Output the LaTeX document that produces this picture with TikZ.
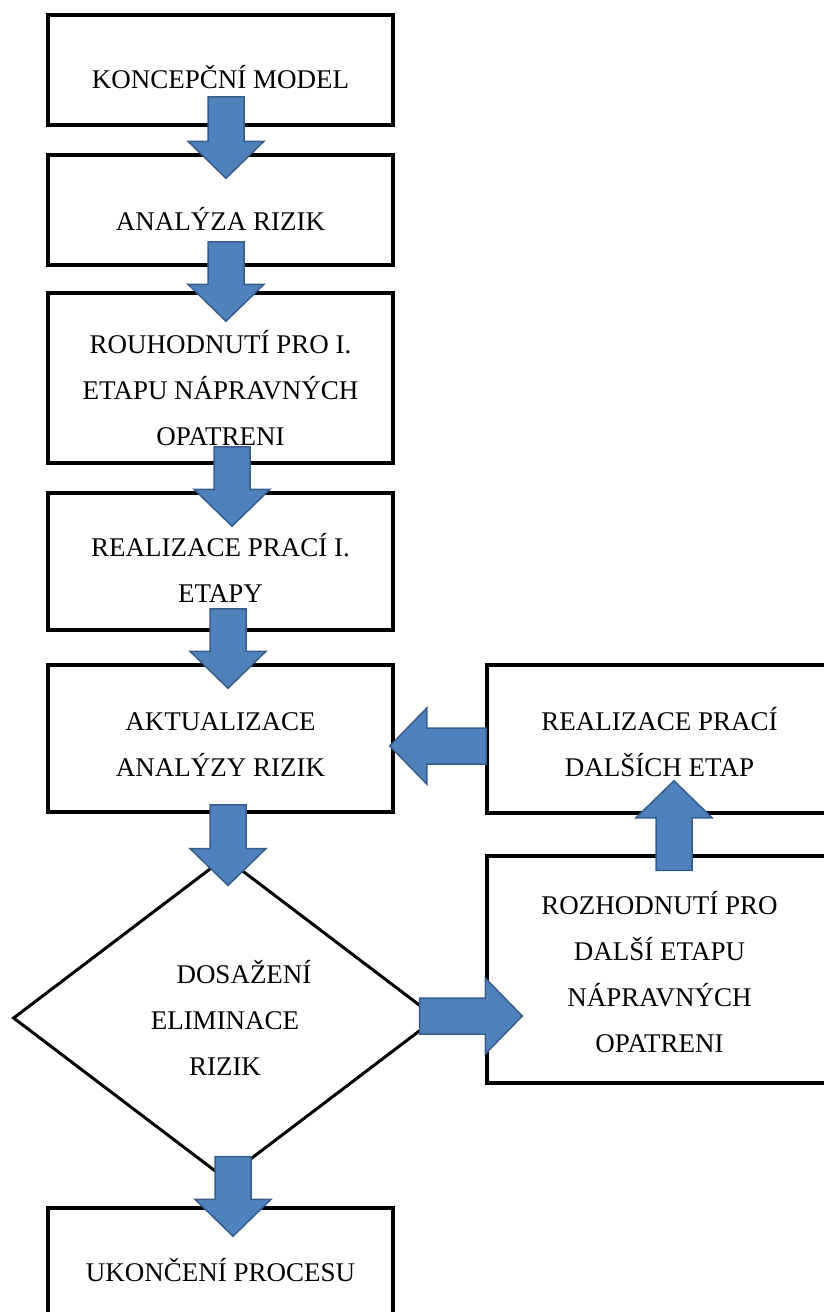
\documentclass[tikz,border=0pt]{standalone}
\usepackage{fontspec}
\setmainfont{Liberation Serif}
\usetikzlibrary{calc,shapes.geometric}

\definecolor{arrowfill}{HTML}{4F81BD}
\definecolor{arrowline}{HTML}{385D8A}

\tikzset{
  box/.style={draw, line width=3.5pt, fill=white, minimum width=345pt, align=center, inner sep=0pt},
  decision/.style={diamond, draw, line width=3pt, fill=white, minimum width=424pt, minimum height=322pt, align=center, inner sep=0pt},
  blockarrow/.style={fill=arrowfill, draw=arrowline, line width=1.5pt}
}

% text sits a bit low in the boxes
\newcommand{\topgap}[1]{\rule{0pt}{#1}}

% fat arrow from #1 to #2
\newcommand{\blockarrow}[2]{%
  \path (#1) coordinate (tail) (#2) coordinate (tip) ($(tip)!37pt!(tail)$) coordinate (hb);
  \draw[blockarrow] ($(tail)!18pt!90:(tip)$) -- ($(hb)!18pt!90:(tip)$) -- ($(hb)!38pt!90:(tip)$) -- (tip)
    -- ($(hb)!38pt!-90:(tip)$) -- ($(hb)!18pt!-90:(tip)$) -- ($(tail)!18pt!-90:(tip)$) -- cycle;
}

\begin{document}
\begin{tikzpicture}[x=1pt, y=-1pt, font=\fontsize{27}{46}\selectfont]
  \useasboundingbox (0,0) rectangle (823,1312);

  % Nodes
  \node[box, minimum height=110pt] (b1) at (220.5,70) {\topgap{38pt}KONCEPČNÍ MODEL};
  \node[box, minimum height=110pt] (b2) at (220.5,210) {\topgap{40pt}ANALÝZA RIZIK};
  \node[box, minimum height=170pt] (b3) at (220.5,378) {\topgap{44pt}ROUHODNUTÍ PRO I.\\ ETAPU NÁPRAVNÝCH\\ OPATRENI};
  \node[box, minimum height=137pt] (b4) at (220.5,561.5) {\topgap{36pt}REALIZACE PRACÍ I.\\ ETAPY};
  \node[box, minimum height=147pt] (b5) at (220.5,738.5) {\topgap{30pt}AKTUALIZACE\\ ANALÝZY RIZIK};
  \node[box, minimum height=148pt] (r1) at (659.5,739) {\topgap{30pt}REALIZACE PRACÍ\\ DALŠÍCH ETAP};
  \node[box, minimum height=227pt] (r2) at (659.5,969.5) {\topgap{28pt}ROZHODNUTÍ PRO\\ DALŠÍ ETAPU\\ NÁPRAVNÝCH\\ OPATRENI};
  \node[decision] (d) at (225,1018) {\hspace*{38pt}DOSAŽENÍ\\ ELIMINACE\\ RIZIK};
  \node[box, minimum height=110pt] (b6) at (220.5,1263) {\topgap{38pt}UKONČENÍ PROCESU};

  % Main flow
  \blockarrow{[xshift=5.5pt,yshift=30pt]b1.south}{[xshift=5.5pt,yshift=-25pt]b2.north}
  \blockarrow{[xshift=5.5pt,yshift=25pt]b2.south}{[xshift=5.5pt,yshift=-30pt]b3.north}
  \blockarrow{[xshift=11.5pt,yshift=18pt]b3.south}{[xshift=11.5pt,yshift=-35pt]b4.north}
  \blockarrow{[xshift=7.5pt,yshift=23pt]b4.south}{[xshift=7.5pt,yshift=-25pt]b5.north}
  \blockarrow{[xshift=7.5pt,yshift=9pt]b5.south}{[xshift=3pt,yshift=-30pt]d.north}
  \blockarrow{[xshift=8pt,yshift=24pt]d.south}{[xshift=12.5pt,yshift=-30pt]b6.north}

  % Loop back
  \blockarrow{[xshift=-19pt,yshift=2pt]d.east}{[xshift=37pt,yshift=-46.5pt]r2.west}
  \blockarrow{[xshift=14.5pt,yshift=-16pt]r2.north}{[xshift=14.5pt,yshift=34pt]r1.south}
  \blockarrow{[xshift=1pt,yshift=-7pt]r1.west}{[xshift=-5pt,yshift=-7.5pt]b5.east}
\end{tikzpicture}
\end{document}
